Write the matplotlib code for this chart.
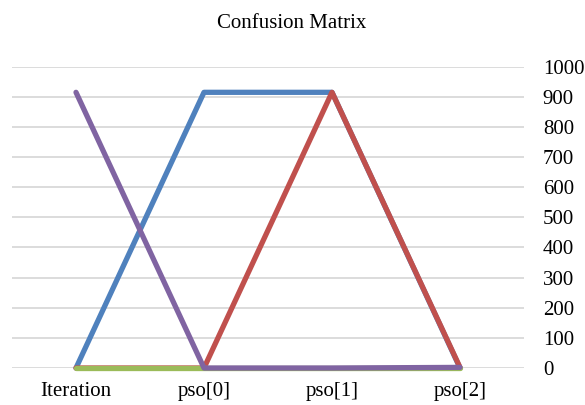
import matplotlib
matplotlib.use("Agg")
import matplotlib.pyplot as plt

plt.rcParams['font.family'] = ['Liberation Serif', 'DejaVu Serif']

categories = ['Iteration', 'pso[0]', 'pso[1]', 'pso[2]']
blue_vals = [0, 915, 915, 0]
red_vals = [0, 0, 915, 2]
green_vals = [0, 0, 0, 0]
purple_vals = [915, 0, 0, 2]

series = [
    (blue_vals, '#4F81BD'),
    (red_vals, '#C0504D'),
    (green_vals, '#9BBB59'),
    (purple_vals, '#8064A2'),
]

fig = plt.figure(figsize=(5.85, 4.05), dpi=100)
ax = fig.add_axes([12 / 585, 37 / 405, 512 / 585, 301.3 / 405])

x = list(range(len(categories)))
for vals, color in series:
    ax.plot(x, vals, color=color, lw=3.8, solid_capstyle='round',
            solid_joinstyle='round', clip_on=False)

ax.set_xlim(-0.5, 3.5)
ax.set_ylim(0, 1000)
ax.set_yticks(range(0, 1001, 100))
ax.yaxis.tick_right()
ax.grid(axis='y', color='#d9d9d9', lw=1.3)
ax.set_axisbelow(True)
for s in ax.spines.values():
    s.set_visible(False)
ax.set_xticks(x)
ax.set_xticklabels(categories)
ax.tick_params(axis='both', length=0, labelsize=15, colors='black')
ax.tick_params(axis='y', pad=13.5)
ax.tick_params(axis='x', pad=10)
for lab in ax.get_yticklabels():
    lab.set_horizontalalignment('left')

fig.text(292 / 585, 1 - 23 / 405, 'Confusion Matrix', ha='center', va='center',
         fontsize=15)

fig.savefig('out.png', dpi=100)
